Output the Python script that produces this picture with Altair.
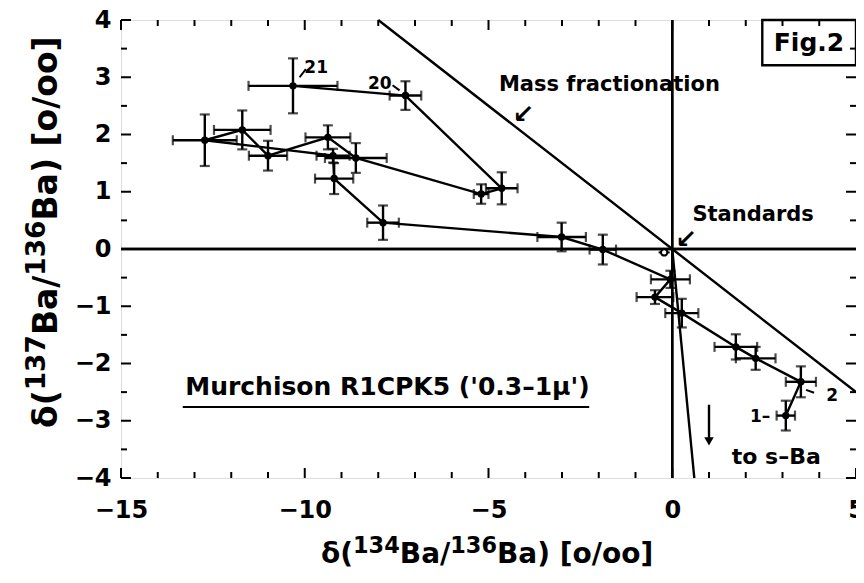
import altair as alt
import pandas as pd

# ---------------- data ----------------
fraction = list(range(1, 22))
d134 = [3.09, 3.50, 2.27, 1.73, 0.26, -0.47, -0.05, -1.89, -3.01, -7.87, -9.20,
        -9.23, -12.72, -11.70, -11.00, -9.37, -8.61, -5.20, -4.64, -7.26, -10.32]
d137 = [-2.91, -2.32, -1.91, -1.71, -1.12, -0.84, -0.53, -0.01, 0.21, 0.46, 1.23,
        1.63, 1.90, 2.08, 1.63, 1.95, 1.59, 0.96, 1.06, 2.68, 2.85]
err134 = [0.25, 0.41, 0.54, 0.58, 0.45, 0.50, 0.53, 0.36, 0.66, 0.43, 0.52,
          0.45, 0.87, 0.77, 0.52, 0.61, 0.84, 0.20, 0.43, 0.43, 1.21]
err137 = [0.26, 0.27, 0.20, 0.22, 0.25, 0.12, 0.15, 0.26, 0.25, 0.30, 0.27,
          0.12, 0.45, 0.34, 0.26, 0.21, 0.26, 0.17, 0.28, 0.25, 0.48]

std_x = [-0.22]
std_y = [-0.06]
std_err134 = [0.15]

mass_x = [-8.0, 5.0]
mass_y = [4.0, -2.5]
sba_x = [0.0, 0.6]
sba_y = [0.0, -4.0]

x_ticks = list(range(-15, 6))
x_labels = [-15, -10, -5, 0, 5]
y_ticks = [-4 + 0.5 * i for i in range(17)]
y_labels = [-4, -3, -2, -1, 0, 1, 2, 3, 4]

ann_text = ["Mass fractionation", "Standards", "to s\u2013Ba",
            "Murchison R1CPK5 ('0.3\u20131\u03bc')", "Fig.2", "21", "20", "1\u2013", "2",
            "\u2199", "\u2199"]
ann_x = [-1.71, 2.20, 2.83, -7.75, 3.72, -9.69, -7.96, 2.39, 4.35, -4.05, 0.38]
ann_y = [2.86, 0.59, -3.64, -2.41, 3.60, 3.17, 2.89, -2.93, -2.56, 2.34, 0.16]
ann_size = [21, 21, 22, 25, 25, 17, 17, 17, 17, 26, 26]

lead_x = [-10.14, -7.61, 3.64, -13.32]
lead_y = [3.00, 2.86, -2.46, -2.76]
lead_x2 = [-9.97, -7.42, 3.86, -2.26]
lead_y2 = [3.14, 2.77, -2.51, -2.76]

box_x = [2.45]
box_x2 = [5.0]
box_y = [3.21]
box_y2 = [4.0]

arrow_x = [1.0]
arrow_y = [-2.72]
arrow_y2 = [-3.36]

# axis title pieces (isotope mass numbers are raised)
xtitle_parts = ["\u03b4(", "134", "Ba/", "136", "Ba) [o/oo]"]
ytitle_parts = ["\u03b4(", "137", "Ba/", "136", "Ba) [o/oo]"]
title_raised = [False, True, False, True, False]

# ---------------- tables ----------------
pts = pd.DataFrame({"n": fraction, "x": d134, "y": d137, "ex": err134, "ey": err137})
pts["xlo"] = pts.x - pts.ex
pts["xhi"] = pts.x + pts.ex
pts["ylo"] = pts.y - pts.ey
pts["yhi"] = pts.y + pts.ey
std = pd.DataFrame({"x": std_x, "y": std_y, "ex": std_err134})
std["xlo"] = std.x - std.ex
std["xhi"] = std.x + std.ex
mass = pd.DataFrame({"x": mass_x, "y": mass_y})
sba = pd.DataFrame({"x": sba_x, "y": sba_y})
ann = pd.DataFrame({"t": ann_text, "x": ann_x, "y": ann_y, "fs": ann_size})
lead = pd.DataFrame({"x": lead_x, "y": lead_y, "x2": lead_x2, "y2": lead_y2})
box = pd.DataFrame({"x": box_x, "x2": box_x2, "y": box_y, "y2": box_y2})
arr = pd.DataFrame({"x": arrow_x, "y": arrow_y, "y2": arrow_y2})
xt = pd.DataFrame({"v": x_ticks, "major": [v in x_labels for v in x_ticks]})
yt = pd.DataFrame({"v": y_ticks, "major": [v in y_labels for v in y_ticks]})

W, H = 735, 458
XD = (-15, 5)
YD = (-4, 4)
FONT = "DejaVu Sans"
xs = alt.Scale(domain=list(XD), nice=False, zero=False)
ys = alt.Scale(domain=list(YD), nice=False, zero=False)
xaxis = alt.Axis(values=x_labels, title=None,
                 ticks=False, domain=False, grid=False, labelPadding=20,
                 labelFontSize=24, labelFontWeight="bold", format="d",
                 labelFlush=False, labelFont=FONT)
yaxis = alt.Axis(values=y_labels, title=None,
                 ticks=False, domain=False, grid=False, labelPadding=10,
                 labelFontSize=24, labelFontWeight="bold", format="d",
                 labelFlush=False, labelFont=FONT)

# layout of the axis titles (DejaVu Sans Bold advance widths, in em)
EM = {"\u03b4": 0.687, "(": 0.457, ")": 0.457, "/": 0.365, " ": 0.348, "[": 0.457,
      "]": 0.457, "B": 0.762, "a": 0.675, "o": 0.687}
SUP = 0.8  # relative size of the isotope numbers


def px2x(px):
    return XD[0] + px / W * (XD[1] - XD[0])


def py2y(py):
    return YD[1] - py / H * (YD[1] - YD[0])


def title_rows(parts, font_size, start, base, vertical):
    rows, pos = [], start
    for part, raised in zip(parts, title_raised):
        fs = font_size * SUP if raised else font_size
        w = sum(EM.get(c, 0.696) for c in part) * fs
        lift = 0.36 * font_size if raised else 0
        if vertical:
            rows.append({"t": part, "x": px2x(base - lift), "y": py2y(pos), "fs": fs})
            pos -= w
        else:
            rows.append({"t": part, "x": px2x(pos), "y": py2y(base - lift), "fs": fs})
            pos += w
    return pd.DataFrame(rows)


ytl = title_rows(ytitle_parts, 33, 408, -64, True)
xtl = title_rows(xtitle_parts, 28, 200, 543, False)


def X(f):
    return alt.X(f, type="quantitative", scale=xs, axis=xaxis)


def Y(f):
    return alt.Y(f, type="quantitative", scale=ys, axis=yaxis)


SW = 2.4
hline = alt.Chart(mass).mark_rule(color="black", strokeWidth=SW).encode(y=alt.Y(datum=0, scale=ys, axis=yaxis))
vline = alt.Chart(mass).mark_rule(color="black", strokeWidth=SW).encode(x=alt.X(datum=0, scale=xs, axis=xaxis))
mline = alt.Chart(mass).mark_line(color="black", strokeWidth=SW).encode(x=X("x"), y=Y("y"))
sline = alt.Chart(sba).mark_line(color="black", strokeWidth=SW).encode(x=X("x"), y=Y("y"))
path = alt.Chart(pts).mark_line(color="black", strokeWidth=SW).encode(x=X("x"), y=Y("y"), order="n:Q")
hbar = alt.Chart(pts).mark_rule(color="black", strokeWidth=SW).encode(x=X("xlo"), x2="xhi", y=Y("y"))
vbar = alt.Chart(pts).mark_rule(color="black", strokeWidth=SW).encode(x=X("x"), y=Y("ylo"), y2="yhi")
capl = alt.Chart(pts).mark_tick(color="black", orient="vertical", size=10, thickness=2.2).encode(x=X("xlo"), y=Y("y"))
capr = alt.Chart(pts).mark_tick(color="black", orient="vertical", size=10, thickness=2.2).encode(x=X("xhi"), y=Y("y"))
capb = alt.Chart(pts).mark_tick(color="black", orient="horizontal", size=10, thickness=2.2).encode(x=X("x"), y=Y("ylo"))
capt = alt.Chart(pts).mark_tick(color="black", orient="horizontal", size=10, thickness=2.2).encode(x=X("x"), y=Y("yhi"))
dots = alt.Chart(pts).mark_circle(color="black", opacity=1, size=55).encode(x=X("x"), y=Y("y"))

sbar = alt.Chart(std).mark_rule(color="black", strokeWidth=2).encode(x=X("xlo"), x2="xhi", y=Y("y"))
sdot = alt.Chart(std).mark_point(color="black", filled=True, fill="white", stroke="black",
                                 strokeWidth=2, opacity=1, size=40).encode(x=X("x"), y=Y("y"))

leaders = alt.Chart(lead).mark_rule(color="black", strokeWidth=2).encode(x=X("x"), y=Y("y"), x2="x2", y2="y2")
figbox = alt.Chart(box).mark_rect(fill="white", stroke="black", strokeWidth=2.4).encode(
    x=X("x"), x2="x2", y=Y("y"), y2="y2")
arrow_shaft = alt.Chart(arr).mark_rule(color="black", strokeWidth=2.4).encode(x=X("x"), y=Y("y"), y2="y2")
arrow_head = alt.Chart(arr).mark_point(shape="triangle-down", filled=True, color="black",
                                       opacity=1, size=90).encode(x=X("x"), y=Y("y2"))
texts = alt.Chart(ann).mark_text(font=FONT, fontWeight="bold", color="black").encode(
    x=X("x"), y=Y("y"), text="t:N", size=alt.Size("fs:Q", scale=None, legend=None))
ytitle = alt.Chart(ytl).mark_text(font=FONT, fontWeight="bold", color="black", angle=270,
                                  align="left", baseline="alphabetic").encode(
    x=X("x"), y=Y("y"), text="t:N", size=alt.Size("fs:Q", scale=None, legend=None))
xtitle = alt.Chart(xtl).mark_text(font=FONT, fontWeight="bold", color="black",
                                  align="left", baseline="alphabetic").encode(
    x=X("x"), y=Y("y"), text="t:N", size=alt.Size("fs:Q", scale=None, legend=None))


def xticks(top, major):
    L = 10 if major else 6
    d = xt[xt.major == major]
    y0, y1 = (0, L) if top else (H, H - L)
    return alt.Chart(d).mark_rule(color="black", strokeWidth=2).encode(
        x=X("v"), y=alt.value(y0), y2=alt.value(y1))


def yticks(right, major):
    L = 10 if major else 6
    d = yt[yt.major == major]
    x0, x1 = (W, W - L) if right else (0, L)
    return alt.Chart(d).mark_rule(color="black", strokeWidth=2).encode(
        y=Y("v"), x=alt.value(x0), x2=alt.value(x1))


tick_layers = [xticks(t, m) for t in (True, False) for m in (True, False)] + \
              [yticks(r, m) for r in (True, False) for m in (True, False)]

chart = alt.layer(
    hline, vline, mline, sline, path, hbar, vbar, capl, capr, capb, capt, dots,
    sbar, sdot, leaders, arrow_shaft, arrow_head, figbox, texts, ytitle, xtitle, *tick_layers
).properties(
    width=W, height=H,
    autosize=alt.AutoSizeParams(type="none"),
    padding={"left": 113, "top": 12, "right": 0, "bottom": 92},
).configure_view(
    stroke="black", strokeWidth=2.6
).configure(background="white")

chart.save("out.html", embed_options={"renderer": "svg", "actions": False})
